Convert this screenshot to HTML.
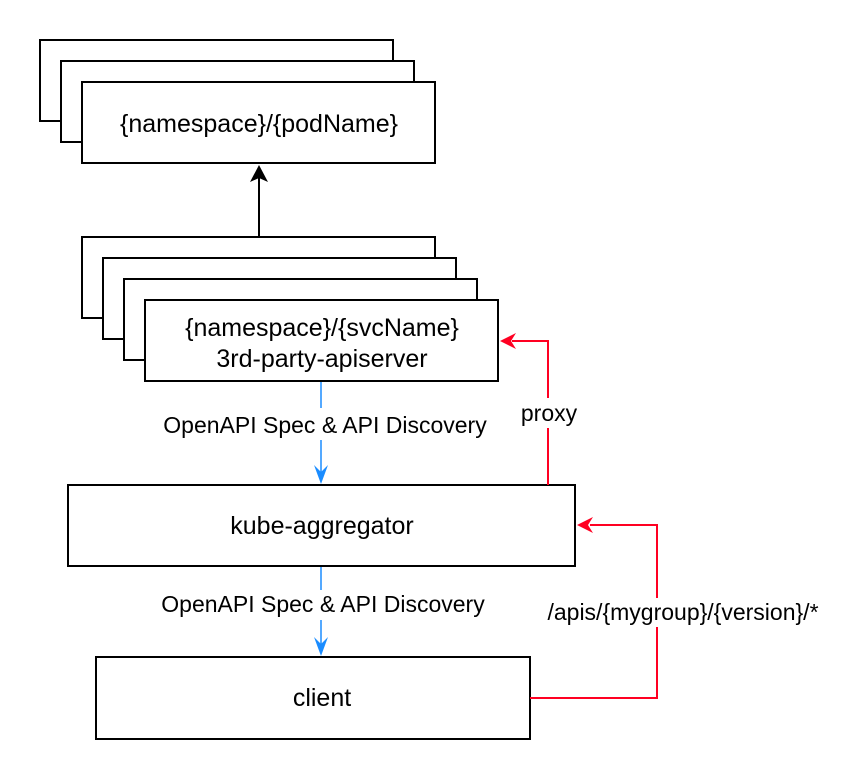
<!DOCTYPE html>
<html><head><meta charset="utf-8"><style>html,body{margin:0;padding:0;background:#fff}svg{display:block}</style></head>
<body>
<svg width="847" height="779" viewBox="0 0 847 779" xmlns="http://www.w3.org/2000/svg" font-family="Liberation Sans, Arial, sans-serif" font-size="25" fill="#000">
<g fill="#fff" stroke="#000" stroke-width="2">
<rect x="40" y="40" width="353" height="81"/>
<rect x="61" y="61" width="353" height="81"/>
<rect x="82" y="82" width="353" height="81"/>
<rect x="82" y="237" width="353" height="81"/>
<rect x="103" y="258" width="353" height="81"/>
<rect x="124" y="279" width="353" height="81"/>
<rect x="145" y="300" width="353" height="81"/>
<rect x="68" y="485" width="507" height="81"/>
<rect x="96" y="657" width="434" height="82"/>
</g>
<g text-anchor="middle" fill="#000">
<text x="259" y="132">{namespace}/{podName}</text>
<text x="322" y="336">{namespace}/{svcName}</text>
<text x="322" y="367">3rd-party-apiserver</text>
<text x="322" y="534">kube-aggregator</text>
<text x="322" y="706">client</text>
</g>
<line x1="259" y1="237" x2="259" y2="178" stroke="#000" stroke-width="2"/>
<path d="M259 165 L268 182 L259 178 L250 182 Z" fill="#000"/>
<g stroke="#1a8cff" stroke-width="1.5" fill="none">
<line x1="321" y1="382" x2="321" y2="408"/>
<line x1="321" y1="440" x2="321" y2="478"/>
<line x1="321" y1="567" x2="321" y2="590"/>
<line x1="321" y1="620" x2="321" y2="650"/>
</g>
<path d="M321 484 L314 465 L321 472 L328 465 Z" fill="#1a8cff"/>
<path d="M321 656 L314 637 L321 644 L328 637 Z" fill="#1a8cff"/>
<g stroke="#ff0022" stroke-width="2" fill="none">
<polyline points="548,485 548,428"/>
<polyline points="548,398 548,341 512,341"/>
<polyline points="530,698 657,698 657,627"/>
<polyline points="657,598 657,525 590,525"/>
</g>
<path d="M500 341 L516 333 L511 341 L516 349 Z" fill="#ff0022"/>
<path d="M577 525 L593 517 L588 525 L593 533 Z" fill="#ff0022"/>
<g text-anchor="middle" font-size="23">
<text x="325" y="433">OpenAPI Spec &amp; API Discovery</text>
<text x="323" y="612">OpenAPI Spec &amp; API Discovery</text>
<text x="549" y="421">proxy</text>
<text x="683" y="620">/apis/{mygroup}/{version}/*</text>
</g>
</svg>
</body></html>
